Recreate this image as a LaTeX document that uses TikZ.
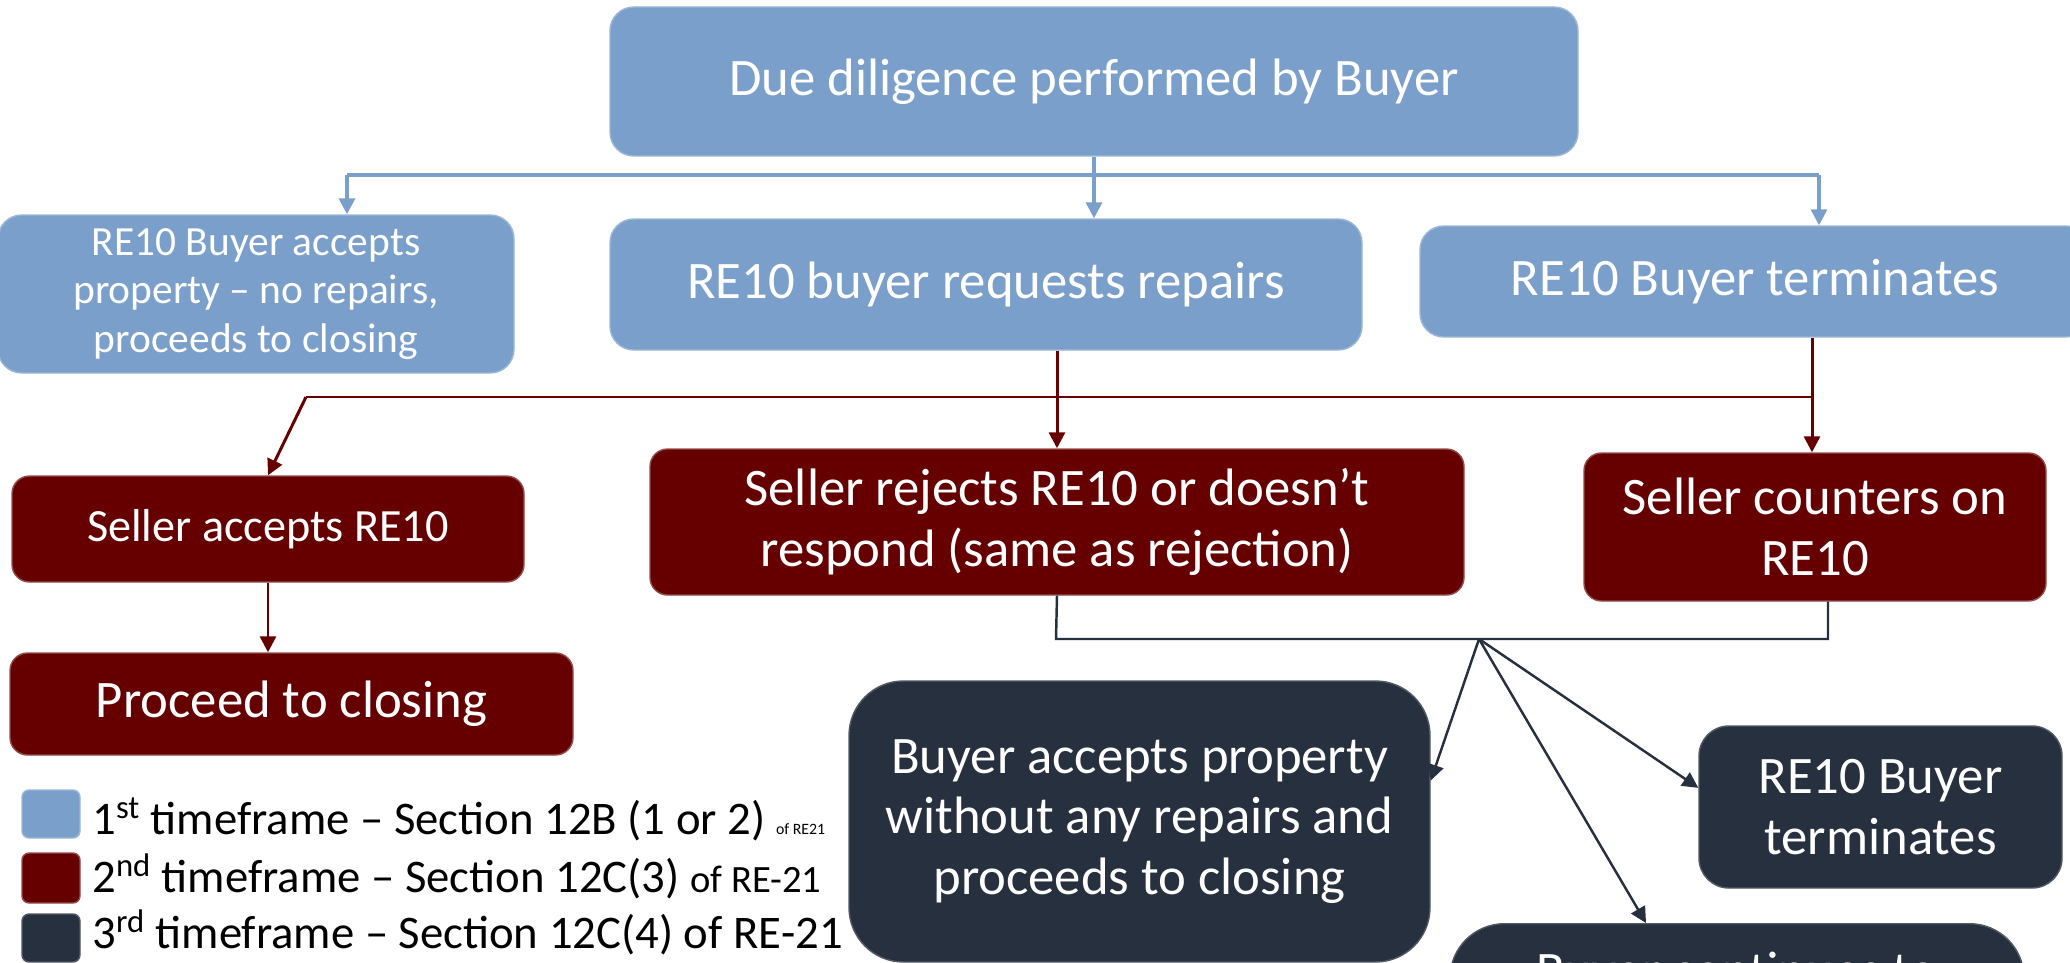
\documentclass[tikz,border=0pt]{standalone}
\usepackage{fontspec}
\setmainfont{Carlito}
\usepackage{xcolor}
\usetikzlibrary{arrows.meta}

\definecolor{tfblue}{HTML}{7B9FCB}
\definecolor{tfred}{HTML}{660000}
\definecolor{tfdark}{HTML}{27303F}
\newcommand{\px}{0.02cm}
\newcommand{\txtbig}{\fontsize{30pt}{34.5pt}\selectfont}
\newcommand{\txtmid}{\fontsize{26.3pt}{31pt}\selectfont}
\newcommand{\txtsmall}{\fontsize{23.6pt}{27.8pt}\selectfont}
\newcommand{\txtleg}{\fontsize{26.6pt}{32pt}\selectfont}
\newcommand{\txtlegs}{\fontsize{22pt}{26pt}\selectfont}
\newcommand{\txttiny}{\fontsize{9pt}{11pt}\selectfont}

\begin{document}
\begin{tikzpicture}[x=\px,y=-\px,>={Triangle[length=9pt,width=9pt]},
	box/.style={text=white,align=center,inner sep=0pt,line width=0.8pt,font=\txtbig},
	one/.style={box,fill=tfblue,draw=tfblue!75!white,rounded corners=13.5pt},
	two/.style={box,fill=tfred,draw=tfred!70!white,rounded corners=10pt},
	three/.style={box,fill=tfdark,draw=tfdark!80!white,rounded corners=31pt},
	key/.style={anchor=base west,inner sep=0pt,font=\txtleg},
	bline/.style={color=tfblue,line width=1.9pt},
	rline/.style={color=tfred,line width=1.7pt},
	dline/.style={color=tfdark,line width=1.4pt}]
		\useasboundingbox (0,0) rectangle (2070,963);
		\clip (0,0) rectangle (2070,963);
		% first timeframe
		\node[one,minimum width=968*\px,minimum height=149*\px] (due) at (1094,81.5) {Due diligence performed by Buyer};
		\node[one,minimum width=516*\px,minimum height=158*\px,font=\txtsmall] (acc) at (256,294) {RE10 Buyer accepts\\property – no repairs,\\proceeds to closing};
		\node[one,minimum width=752*\px,minimum height=131*\px] (req) at (986,284.5) {RE10 buyer requests repairs};
		\node[one,minimum width=670*\px,minimum height=111*\px] (ter) at (1755,281.5) {RE10 Buyer terminates};
		% second timeframe
		\node[two,minimum width=512*\px,minimum height=106*\px,font=\txtmid] (sacc) at (268,529) {Seller accepts RE10};
		\node[two,minimum width=563*\px,minimum height=102*\px] (clos) at (291.5,704) {Proceed to closing};
		\node[two,minimum width=814*\px,minimum height=146*\px] (srej) at (1057,522) {Seller rejects RE10 or doesn’t\\respond (same as rejection)};
		\node[two,minimum width=462*\px,minimum height=148*\px] (scnt) at (1815,527) {Seller counters on\\RE10};
		% third timeframe
		\node[three,minimum width=581*\px,minimum height=281*\px] (bacc) at (1139.5,821.5) {Buyer accepts property\\without any repairs and\\proceeds to closing};
		\node[three,rounded corners=17pt,minimum width=363*\px,minimum height=162*\px] (bter) at (1880.5,807) {RE10 Buyer\\terminates};
		\node[three,anchor=north,minimum width=574*\px,inner ysep=28*\px,text depth=120*\px] (bcon) at (1737,923) {Buyer continues to};
		% legend
		\node[one,rounded corners=4pt,minimum width=58*\px,minimum height=48*\px] (k1) at (51,814) {};
		\node[two,rounded corners=4pt,minimum width=58*\px,minimum height=50*\px] (k2) at (51,878) {};
		\node[three,rounded corners=4pt,minimum width=58*\px,minimum height=48*\px] (k3) at (51,938) {};
		\node[key] (l1) at (92,834) {1\textsuperscript{st} timeframe – Section 12B (1 or 2) {\txttiny of RE21}};
		\node[key] (l2) at (92,892) {2\textsuperscript{nd} timeframe – Section 12C(3) {\txtlegs of RE-21}};
		\node[key] (l3) at (92,948) {3\textsuperscript{rd} timeframe – Section 12C(4) of RE-21};
		%
		\coordinate (bt) at (1094,175);
		\coordinate (bl) at (347,175);
		\coordinate (br) at (1819,175);
		\coordinate (rj) at (1812,397);
		\coordinate (rl) at (306,397);
		\coordinate (dl) at (1056,639);
		\coordinate (dj) at (1479,639);
		\coordinate (dr) at (1828,639);
		\coordinate (dc) at (1646,0);
		% blue arrows
		\draw[bline] (due.south) -- (bt) (bl) -- (br);
		\path[bline,->]
		(bl) edge (bl |- acc.north)
		(bt) edge (bt |- req.north)
		(br) edge (br |- ter.north);
		% red arrows
		\draw[rline] (ter.south -| rj) -- (rj) -- (rl);
		\path[rline,->]
		(rl) edge (sacc.north)
		(rj) edge (rj |- scnt.north)
		(srej.north |- req.south) edge (srej.north)
		(sacc.south) edge (sacc.south |- clos.north);
		% dark arrows
		\draw[dline] (srej.south) -- (dl) -- (dr) -- (dr |- scnt.south);
		\path[dline,->]
		(dj) edge (bacc.8)
		(dj) edge (bter.174)
		(dj) edge (bcon.north -| dc);
\end{tikzpicture}
\end{document}
